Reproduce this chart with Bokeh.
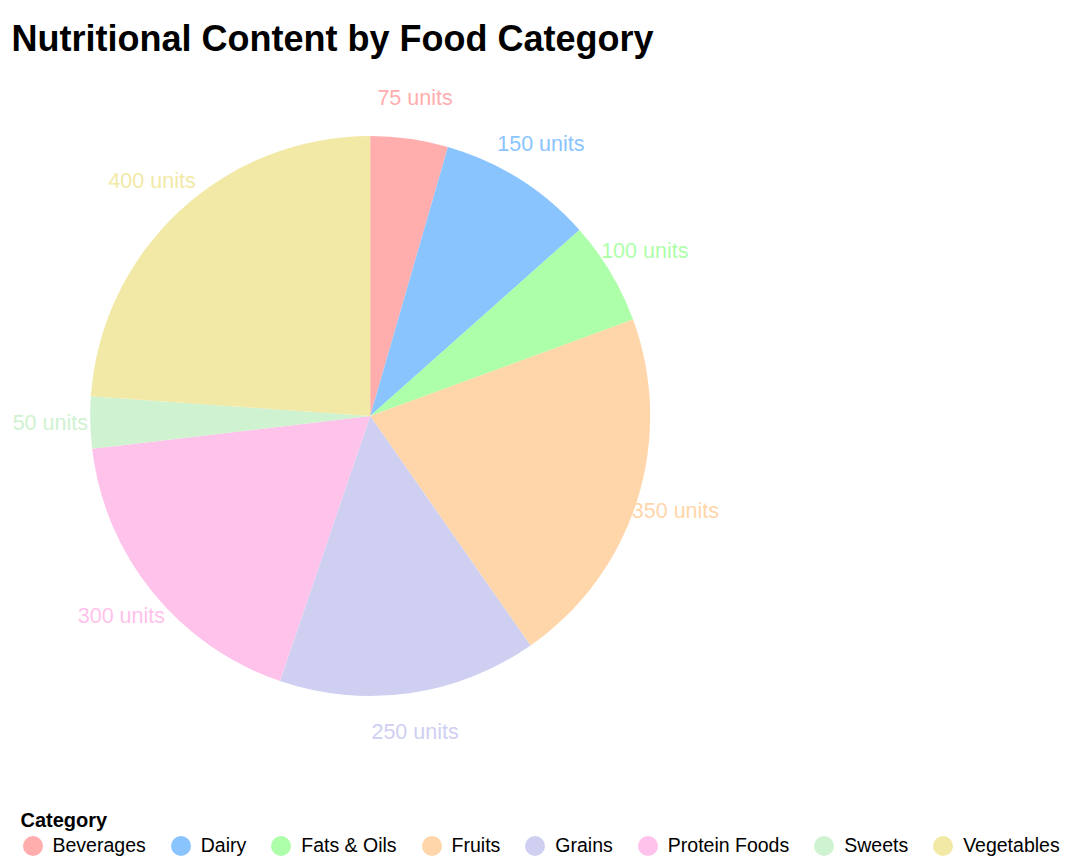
import math
from bokeh.plotting import figure
from bokeh.models import Range1d, Legend, LegendItem, ColumnDataSource
from bokeh.core.properties import value
from bokeh.embed import file_html
from bokeh.resources import INLINE

# ---- data ----
categories = ["Beverages", "Dairy", "Fats & Oils", "Fruits", "Grains",
              "Protein Foods", "Sweets", "Vegetables"]
amounts = [75, 150, 100, 350, 250, 300, 50, 400]
colors = ["#FFADAD", "#8AC4FF", "#ADFFA9", "#FFD6AA", "#CFCFF2",
          "#FFC2EB", "#CFF2D0", "#F2E9A6"]

# ---- layout constants ----
W, H = 1062, 858
def Y(py):
    return H - py

CX, CY = 369.7, Y(415.5)
R = 280
LABEL_R = 320
FONT = "Liberation Sans"

p = figure(width=W, height=H, output_backend="svg", toolbar_location=None,
           x_range=Range1d(0, W), y_range=Range1d(0, H),
           min_border=0, outline_line_color=None)
p.axis.visible = False
p.grid.visible = False
p.background_fill_color = "white"
p.border_fill_color = "white"

total = float(sum(amounts))
starts, ends, lx, ly = [], [], [], []
cum = 0.0
for a in amounts:
    s = math.pi / 2 - 2 * math.pi * cum / total
    e = math.pi / 2 - 2 * math.pi * (cum + a) / total
    m = (s + e) / 2
    starts.append(s)
    ends.append(e)
    lx.append(CX + LABEL_R * math.cos(m))
    ly.append(CY + LABEL_R * math.sin(m))
    cum += a

src = ColumnDataSource(dict(cat=categories, amt=amounts, color=colors,
                            start=starts, end=ends, lx=lx, ly=ly,
                            label=[f"{a} units" for a in amounts]))

p.wedge(x=CX, y=CY, radius=R, start_angle="start", end_angle="end",
        direction="clock", fill_color="color", line_color=None, source=src)

p.text(x="lx", y="ly", text="label", source=src, text_color="color",
       text_align="center", text_baseline="middle", y_offset=-1,
       text_font=value(FONT), text_font_size="21.5px")

# title
p.text(x=[11], y=[Y(38)], text=["Nutritional Content by Food Category"],
       text_font=value(FONT), text_font_style="bold", text_font_size="36px",
       text_color="black", text_align="left", text_baseline="alphabetic")

# legend title
p.text(x=[20], y=[Y(819)], text=["Category"],
       text_font=value(FONT), text_font_style="bold", text_font_size="20px",
       text_color="black", text_align="left", text_baseline="alphabetic")

# tiny ellipses used only as legend glyphs
items = []
for i, c in enumerate(categories):
    er = p.ellipse(x=[CX], y=[CY], width=1e-3, height=1e-3,
                   fill_color=colors[i], line_color=None)
    items.append(LegendItem(label=c, renderers=[er]))

legend = Legend(items=items, orientation="horizontal",
                location=(19.5, 0), margin=0, padding=0, spacing=22,
                glyph_width=25, glyph_height=25, label_standoff=8,
                label_text_font=FONT, label_text_font_size="19.5px",
                label_text_baseline="middle", label_text_color="black",
                border_line_color=None, background_fill_alpha=0)
p.add_layout(legend, "center")

open("out.html", "w").write(file_html(p, INLINE))
